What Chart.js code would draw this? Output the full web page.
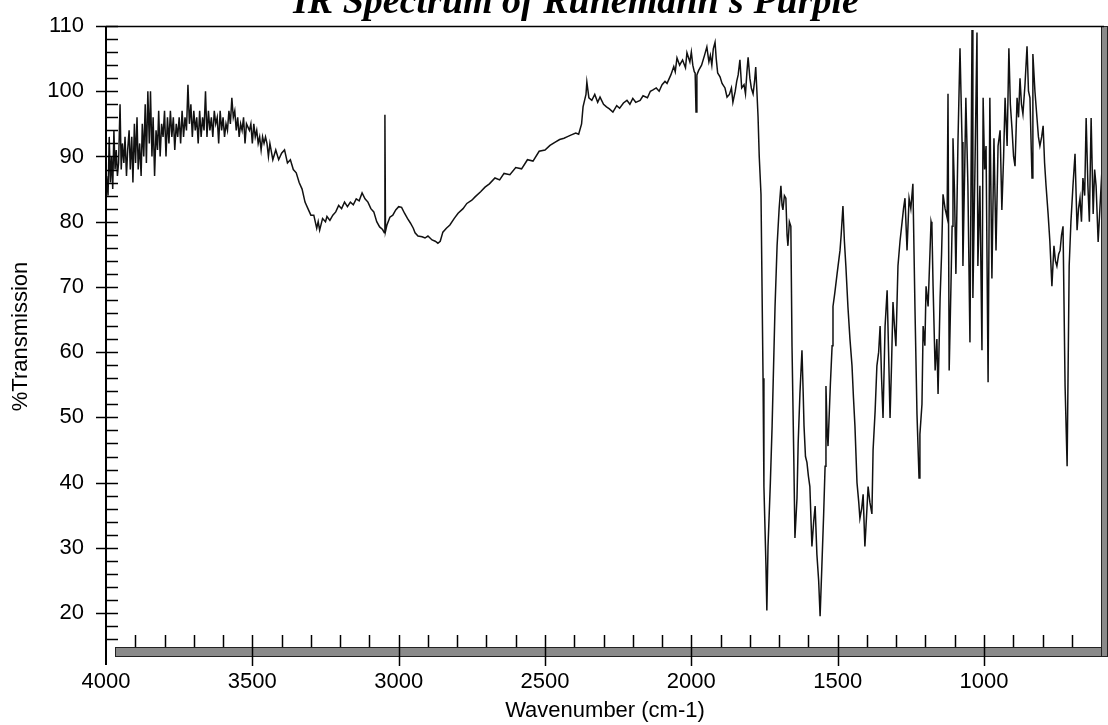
<!DOCTYPE html>
<html>
<head>
<meta charset="utf-8">
<title>IR Spectrum of Ruhemann's Purple</title>
<script src="https://cdn.jsdelivr.net/npm/chart.js@4.4.0/dist/chart.umd.min.js"></script>
<style>
html, body { margin: 0; padding: 0; background: #fff; }
#chart { display: block; }
</style>
</head>
<body>
<canvas id="chart" width="1108" height="725"></canvas>
<script>
var chartTitle = "IR Spectrum of Ruhemann's Purple";
var xTicks = [4000, 3500, 3000, 2500, 2000, 1500, 1000];
var yTicks = [20, 30, 40, 50, 60, 70, 80, 90, 100, 110];

// wavenumber (cm-1)
var wavenumbers = [
    3998, 3993, 3989, 3985, 3981, 3977, 3973, 3969, 3965, 3961,
    3957, 3952, 3948, 3944, 3939, 3935, 3930, 3926, 3921, 3917,
    3912, 3908, 3903, 3899, 3894, 3890, 3885, 3880, 3876, 3871,
    3866, 3862, 3857, 3852, 3848, 3843, 3839, 3834, 3829, 3824,
    3820, 3815, 3810, 3805, 3800, 3795, 3790, 3785, 3780, 3775,
    3770, 3765, 3760, 3755, 3750, 3745, 3740, 3735, 3730, 3725,
    3720, 3715, 3710, 3705, 3700, 3695, 3690, 3685, 3680, 3675,
    3670, 3665, 3660, 3655, 3650, 3645, 3640, 3635, 3630, 3625,
    3620, 3615, 3610, 3605, 3600, 3595, 3590, 3585, 3580, 3575,
    3570, 3565, 3560, 3555, 3550, 3545, 3540, 3535, 3530, 3525,
    3520, 3510, 3505, 3500, 3495, 3490, 3485, 3480, 3475, 3470,
    3465, 3460, 3455, 3450, 3445, 3440, 3430, 3420, 3410, 3400,
    3390, 3380, 3370, 3360, 3350, 3340, 3330, 3320, 3310, 3300,
    3290, 3280, 3275, 3270, 3260, 3250, 3245, 3235, 3225, 3215,
    3205, 3195, 3185, 3175, 3165, 3155, 3145, 3135, 3125, 3115,
    3105, 3095, 3085, 3075, 3065, 3055, 3049, 3047, 3045, 3040,
    3030, 3020, 3010, 3000, 2990, 2980, 2970, 2960, 2950, 2944,
    2934, 2920, 2910, 2900, 2886, 2875, 2866, 2858, 2849, 2837,
    2825, 2810, 2797, 2780, 2767, 2750, 2739, 2720, 2705, 2690,
    2671, 2655, 2640, 2620, 2600, 2580, 2560, 2541, 2520, 2500,
    2483, 2465, 2450, 2435, 2425, 2410, 2395, 2385, 2375, 2370,
    2360, 2357, 2350, 2340, 2330, 2320, 2312, 2300, 2290, 2280,
    2268, 2255, 2245, 2232, 2220, 2210, 2200, 2190, 2175, 2165,
    2150, 2140, 2131, 2120, 2110, 2100, 2090, 2083, 2070, 2060,
    2055, 2049, 2040, 2030, 2020, 2015, 2005, 2000, 1995, 1990,
    1987, 1984, 1981, 1975, 1965, 1955, 1947, 1940, 1935, 1930,
    1925, 1919, 1915, 1910, 1902, 1895, 1885, 1878, 1870, 1863,
    1858, 1850, 1845, 1840, 1834, 1828, 1820, 1815, 1810, 1806,
    1800, 1795, 1789, 1784, 1780, 1776, 1772, 1768, 1762, 1755,
    1752, 1745, 1742, 1738, 1730, 1724, 1714, 1707, 1700, 1694,
    1690, 1687, 1682, 1677, 1673, 1670, 1665, 1660, 1656, 1650,
    1646, 1639, 1635, 1629, 1622, 1618, 1615, 1610, 1605, 1600,
    1595, 1588, 1582, 1577, 1571, 1565, 1560, 1554, 1548, 1543,
    1540, 1536, 1533, 1525, 1519, 1516, 1510, 1502, 1492, 1488,
    1482, 1477, 1472, 1465, 1458, 1451, 1446, 1441, 1434, 1428,
    1424, 1418, 1413, 1407, 1400, 1396, 1390, 1383, 1379, 1372,
    1366, 1360, 1355, 1350, 1345, 1338, 1331, 1326, 1321, 1316,
    1311, 1306, 1301, 1294, 1287, 1280, 1275, 1270, 1263, 1256,
    1250, 1243, 1236, 1229, 1222, 1219, 1212, 1208, 1202, 1198,
    1191, 1181, 1178, 1174, 1167, 1161, 1157, 1150, 1145, 1140,
    1133, 1126, 1123, 1119, 1113, 1109, 1106, 1101, 1096, 1089,
    1082, 1075, 1072, 1066, 1062, 1055, 1048, 1041, 1038, 1031,
    1024, 1021, 1014, 1007, 1003, 998, 993, 986, 980, 973,
    966, 959, 952, 945, 939, 933, 928, 921, 915, 910,
    904, 899, 894, 887, 882, 877, 872, 867, 860, 853,
    848, 843, 836, 833, 826, 819, 814, 809, 803, 798,
    793, 788, 781, 775, 768, 761, 756, 751, 745, 740,
    735, 730, 723, 716, 709, 703, 696, 689, 682, 677,
    672, 667, 662, 656, 651, 645, 640, 634, 627, 622,
    617, 610, 604, 597, 590
];

// %Transmission at each wavenumber above
var transmission = [
    87, 84, 93, 86, 90, 85, 94, 88, 91, 87,
    89, 98, 88, 92, 89, 93, 87, 91, 94, 88,
    93, 86, 95, 89, 96, 88, 92, 87, 95, 90,
    98, 89, 100, 92, 100, 90, 96, 87, 94, 91,
    97, 90, 95, 93, 97, 90, 96, 92, 97, 93,
    96, 91, 95, 93, 96, 92, 97, 93, 96, 94,
    101, 95, 98, 93, 97, 94, 96, 92, 97, 93,
    96, 94, 100, 93, 97, 94, 96, 93, 97, 95,
    96, 92, 97, 94, 96, 93, 95, 94, 97, 95,
    99, 96, 97, 94, 96, 93, 95, 94, 96, 92,
    95, 94, 95, 92, 95, 93, 94, 92, 93, 91,
    93, 92, 93, 92, 90, 92, 89.5, 91, 89.5, 90.5,
    91, 89, 89.5, 88, 87.5, 86, 85, 83, 82, 81,
    81, 79, 80, 78.7, 80.5, 80, 80.8, 80.2, 81, 81.5,
    82.5, 82, 83, 82.3, 83, 82.6, 83.5, 83.2, 84.4, 83.5,
    83, 82, 81.5, 80, 79.2, 78.8, 78.3, 96.4, 78.5, 79.5,
    80.7, 81, 81.8, 82.3, 82.2, 81.3, 80.5, 79.8, 79, 78.3,
    77.8, 77.7, 77.5, 77.8, 77.2, 77, 76.7, 77, 78.4, 79,
    79.5, 80.5, 81.3, 82, 82.8, 83.3, 83.8, 84.6, 85.3, 85.8,
    86.7, 86.4, 87.4, 87.2, 88.3, 88.1, 89.5, 89.3, 90.8, 91,
    91.7, 92.2, 92.6, 92.8, 93, 93.3, 93.6, 93.4, 95, 97.6,
    99.5, 101.4, 99, 98.6, 99.5, 98.3, 99.1, 98, 97.6, 97.3,
    96.8, 97.8, 97.4, 98.2, 98.6, 98, 98.9, 98.3, 98.6, 99.3,
    99, 100, 100.2, 100.5, 100, 101, 101.5, 101.2, 102.5, 103.8,
    103, 105.1, 104, 104.8, 103.6, 105.9, 104.5, 106, 104, 103,
    102.8, 96.8, 102.5, 103.2, 104, 105.5, 106.8, 104.5, 105.5, 104,
    106.5, 107.5, 105, 102.8, 102.2, 101.2, 100.5, 99.1, 99.5, 100.5,
    98.3, 100, 101.5, 102.5, 104.8, 100.5, 101, 99.6, 103, 105.2,
    102, 100.5, 99.6, 101.5, 103.7, 100, 96, 90, 84.2, 56,
    39.4, 27.2, 20.4, 30.2, 40, 48.7, 67, 76.3, 82, 85.5,
    82.5, 81.8, 84, 83.6, 78, 76.3, 80, 79.3, 60.9, 44,
    31.5, 37.6, 46, 53.6, 60.3, 54, 48.7, 44, 43.1, 41,
    39.4, 30.2, 34, 36.4, 29, 25, 19.5, 27.2, 35, 42.5,
    54.8, 48, 45.6, 55, 61, 67, 69, 72, 75.6, 78,
    82.4, 77, 73.2, 67, 62, 57.9, 53, 48.7, 40, 37,
    34.5, 36, 38.2, 30.2, 36, 39.4, 37, 35.2, 45, 51,
    57.9, 60, 64, 56, 49.9, 64, 69.5, 60, 49.9, 58,
    67.7, 64, 60.9, 73.2, 77, 79.9, 82, 83.6, 75.6, 83.6,
    82, 85.8, 67, 50.5, 40.7, 47.4, 52, 64, 61, 70.1,
    67, 80, 79.3, 70.1, 57.2, 62, 53.6, 68.3, 75, 84.2,
    82, 80.6, 99.6, 57.2, 70, 79.3, 92.8, 85, 72, 92.2,
    106.6, 92.2, 73.2, 88, 99, 85.5, 61.5, 109.4, 68.3, 87.9,
    109, 73.2, 85.5, 60.3, 99, 88, 91.6, 55.4, 99, 71.3,
    92.8, 75.6, 91.6, 94, 81.8, 90, 99, 91.6, 106.6, 98,
    94, 90, 88.5, 99, 96, 102, 98, 96.5, 101, 106.9,
    100, 99, 86.7, 105.7, 100, 95.9, 93, 91.6, 93, 94.7,
    89, 85.5, 81.2, 77, 70.1, 76.3, 74, 73.2, 75, 75.6,
    78, 79.3, 54.8, 42.5, 73.2, 80, 85.5, 90.4, 78.7, 82,
    83.6, 80, 86.7, 84, 95.9, 85.5, 80, 95.9, 81.2, 88,
    85.5, 76.9, 82, 87.9, 83
];

var sansFont = '"Liberation Sans", Arial, Helvetica, sans-serif';

function strokeLine(ctx, x1, y1, x2, y2) {
    ctx.beginPath();
    ctx.moveTo(x1, y1);
    ctx.lineTo(x2, y2);
    ctx.stroke();
}

// frame, inward ticks and the (cropped) title, drawn like the printed spectrum
var framePlugin = {
    id: 'irFrame',
    afterDraw: function(chart) {
        var ctx = chart.ctx;
        var a = chart.chartArea;
        var xs = chart.scales.x;
        var ys = chart.scales.y;
        ctx.save();

        ctx.fillStyle = '#8a8a8a';
        ctx.strokeStyle = '#222';
        ctx.lineWidth = 1;
        ctx.fillRect(a.left + 9, a.bottom, chart.width - a.left - 9, 10);
        ctx.strokeRect(a.left + 9.5, a.bottom + 0.5, chart.width - a.left - 10, 9);
        ctx.fillRect(a.right - 3, a.top, chart.width - a.right + 3, a.bottom - a.top + 10);
        ctx.strokeRect(a.right - 2.5, a.top + 0.5, chart.width - a.right + 2, a.bottom - a.top + 9);

        ctx.strokeStyle = '#000';
        ctx.lineWidth = 1.5;
        strokeLine(ctx, a.left, a.top + 0.5, a.right, a.top + 0.5);
        ctx.lineWidth = 2;
        strokeLine(ctx, a.left, a.top, a.left, a.bottom + 18);

        ctx.lineWidth = 1.5;
        var v, w, p;
        for (v = 16; v <= 110; v += 2) {
            p = Math.round(ys.getPixelForValue(v)) + 0.5;
            strokeLine(ctx, v % 10 === 0 ? a.left - 10 : a.left, p, a.left + 12, p);
        }
        for (w = 700; w < 4000; w += 100) {
            p = Math.round(xs.getPixelForValue(w)) + 0.5;
            strokeLine(ctx, p, a.bottom - 12, p, w % 500 === 0 ? a.bottom + 19 : a.bottom);
        }

        ctx.fillStyle = '#000';
        ctx.font = 'bold italic 38px "Liberation Serif", "Times New Roman", serif';
        ctx.textAlign = 'center';
        ctx.textBaseline = 'alphabetic';
        ctx.fillText(chartTitle, 576, 13);
        ctx.restore();
    }
};

function plainNumber(value) {
    return String(value);
}

var chart = null;
function createChart() {
    var points = wavenumbers.map(function(w, i) {
        return {x: w, y: transmission[i]};
    });
    chart = new Chart(document.getElementById('chart'), {
        type: 'scatter',
        data: {
            datasets: [{
                label: '%Transmission',
                data: points,
                showLine: true,
                borderColor: '#111',
                borderWidth: 1.5,
                pointRadius: 0,
                tension: 0
            }]
        },
        options: {
            responsive: false,
            animation: false,
            devicePixelRatio: 1,
            layout: { padding: { top: 26, right: 4, left: 0, bottom: 0 } },
            plugins: { legend: { display: false }, tooltip: { enabled: false } },
            scales: {
                x: {
                    type: 'linear',
                    reverse: true,
                    min: 590,
                    max: 4000,
                    afterBuildTicks: function(scale) {
                        scale.ticks = xTicks.map(function(t) { return {value: t}; });
                    },
                    afterFit: function(scale) {
                        scale.height = 78;
                        scale.paddingLeft = 0;
                        scale.paddingRight = 0;
                    },
                    grid: { display: false, drawTicks: false },
                    border: { display: false },
                    ticks: {
                        color: '#000',
                        font: { family: sansFont, size: 22 },
                        padding: 22,
                        maxRotation: 0,
                        autoSkip: false,
                        callback: plainNumber
                    },
                    title: {
                        display: true,
                        text: 'Wavenumber (cm-1)',
                        color: '#000',
                        font: { family: sansFont, size: 22 },
                        padding: { top: 0, bottom: 1 }
                    }
                },
                y: {
                    min: 14.8,
                    max: 110,
                    afterBuildTicks: function(scale) {
                        scale.ticks = yTicks.map(function(t) { return {value: t}; });
                    },
                    afterFit: function(scale) {
                        scale.width = 106;
                        scale.paddingTop = 0;
                        scale.paddingBottom = 0;
                    },
                    grid: { display: false, drawTicks: false },
                    border: { display: false },
                    ticks: {
                        color: '#000',
                        font: { family: sansFont, size: 22 },
                        padding: 22,
                        autoSkip: false,
                        callback: plainNumber
                    },
                    title: {
                        display: true,
                        text: '%Transmission',
                        color: '#000',
                        font: { family: sansFont, size: 22 },
                        padding: { top: 8, bottom: 0 }
                    }
                }
            }
        },
        plugins: [framePlugin]
    });
}
window.addEventListener('load', createChart, false);
</script>
</body>
</html>
